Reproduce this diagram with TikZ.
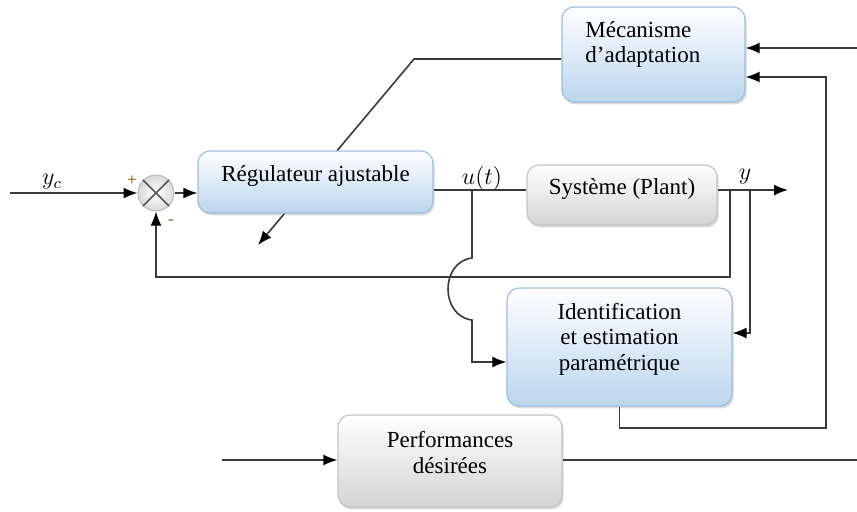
\documentclass[tikz,border=0pt]{standalone}
\usepackage{fontspec}
\setmainfont{Liberation Serif}
\usetikzlibrary{shadows,arrows.meta,backgrounds}
\definecolor{bluebot}{HTML}{BCD5EE}
\definecolor{blueline}{HTML}{9CBFE3}
\definecolor{greybot}{HTML}{D4D4D4}
\definecolor{greyline}{HTML}{C4C4C4}
\definecolor{wire}{HTML}{3A3A3A}
\definecolor{signcol}{HTML}{B86A22}
\begin{document}
\begin{tikzpicture}[x=0.5pt,y=-0.5pt,
  font=\fontsize{11.5}{12.8}\selectfont,
  bluebox/.style={rectangle, rounded corners=6pt, draw=blueline, line width=0.6pt,
    top color=white, bottom color=bluebot,
    drop shadow={shadow xshift=0.8pt, shadow yshift=-1.2pt, opacity=0.3}},
  greybox/.style={rectangle, rounded corners=6pt, draw=greyline, line width=0.6pt,
    top color=white, bottom color=greybot,
    drop shadow={shadow xshift=0.8pt, shadow yshift=-1.2pt, opacity=0.3}},
  lbl/.style={inner sep=0pt, align=center},
  wireline/.style={draw=wire, line width=0.8pt},
  arr/.style={wireline, -{Latex[length=7pt,width=5.5pt,color=black]}},
  sumstyle/.style={circle, minimum size=18pt, inner sep=0pt, draw=gray!55,
    line width=0.5pt, inner color=white, outer color=gray!30}]
\useasboundingbox (0,0) rectangle (857,511);

% boxes
\node[bluebox, minimum width=91.5pt, minimum height=47.5pt] (meca) at (653.5,54.5) {};
\node[lbl, anchor=west, align=left] (mecatxt) at (585,44.5) {Mécanisme\\d’adaptation};
\node[bluebox, minimum width=117.5pt, minimum height=31pt] (reg) at (315.5,182) {};
\node[lbl] (regtxt) at (315.5,176) {Régulateur ajustable};
\node[greybox, minimum width=95pt, minimum height=30pt] (sys) at (622,195) {};
\node[lbl] (systxt) at (622,189) {Système (Plant)};
\node[bluebox, minimum width=112.5pt, minimum height=59pt] (ident) at (619.5,347) {};
\node[lbl] (identtxt) at (619.5,339) {Identification\\et estimation\\paramétrique};
\node[greybox, minimum width=112pt, minimum height=46pt] (perf) at (450,461) {};
\node[lbl] (perftxt) at (450,452.5) {Performances\\désirées};
\node[sumstyle] (sum) at (156,193) {};
\draw[draw=wire!85, line width=0.8pt] (sum.135) -- (sum.-45) (sum.45) -- (sum.-135);

% labels
\node[lbl] (yclbl) at (52,182) {$y_c$};
\node[lbl] (ulbl) at (482,178) {$u(t)$};
\node[lbl] (ylbl) at (745,177) {$y$};
\node[lbl, text=signcol, font=\fontsize{8.5}{8.5}\selectfont\bfseries] (plus) at (132,181) {+};
\node[lbl, text=signcol, font=\fontsize{8.5}{8.5}\selectfont\bfseries] (minus) at (171,222) {-};

% coordinates
\coordinate (in) at (10,193);
\coordinate (ut) at (472,190);
\coordinate (ut2) at (472,258);
\coordinate (ut3) at (472,320);
\coordinate (ut4) at (472,362);
\coordinate (out) at (788,190);
\coordinate (fb1) at (730,190);
\coordinate (fb2) at (730,277);
\coordinate (yb1) at (750,190);
\coordinate (yb2) at (750,333);
\coordinate (io2) at (826,428);
\coordinate (io3) at (826,77);
\coordinate (rin) at (857,48);
\coordinate (pin) at (222,460);
\coordinate (pout) at (857,460);
\coordinate (adj) at (414,59);
\coordinate (adjtip) at (258,245);

% connectors
\begin{pgfonlayer}{background}
\draw[arr] (meca.west |- adj) -- (adj) -- (adjtip);
\end{pgfonlayer}
\draw[arr] (in) -- (sum.west);
\draw[arr] (sum.east) -- (reg.west |- sum.east);
\draw[wireline] (reg.east |- ut) -- (sys.west |- ut);
\draw[arr] (sys.east |- out) -- (out);
\draw[arr] (fb1) -- (fb2) -- (sum.south |- fb2) -- (sum.south);
\draw[arr] (yb1) -- (yb2) -- (ident.east |- yb2);
\draw[arr] (ut) -- (ut2) .. controls (440,262) and (440,316) .. (ut3) -- (ut4) -- (ident.west |- ut4);
\draw[arr] (ident.south) -- (ident.south |- io2) -- (io2) -- (io3) -- (meca.east |- io3);
\draw[arr] (rin) -- (meca.east |- rin);
\draw[arr] (pin) -- (perf.west |- pin);
\draw[wireline] (perf.east |- pout) -- (pout);
\end{tikzpicture}
\end{document}
